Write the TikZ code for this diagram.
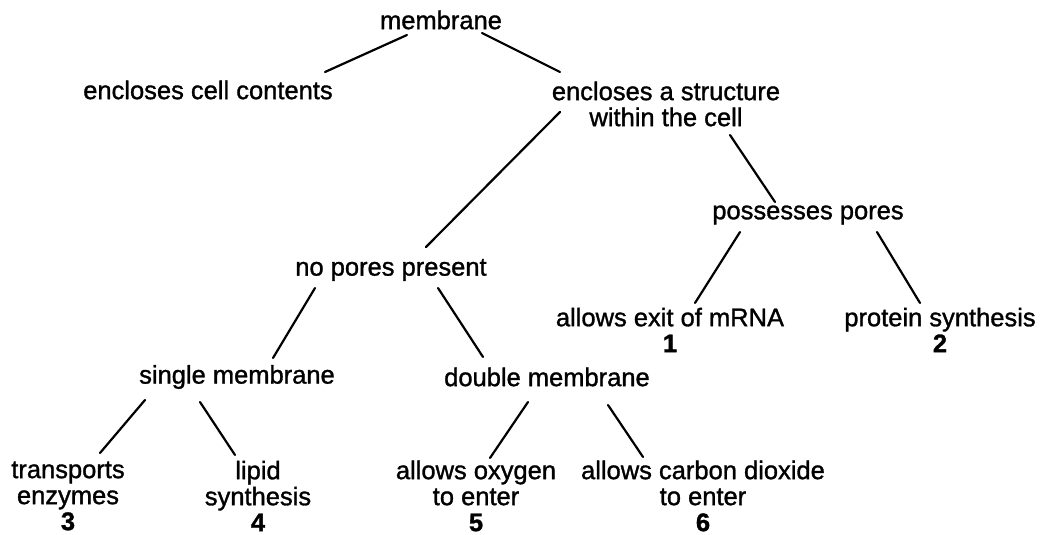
\documentclass[tikz,border=0pt]{standalone}
\usepackage{fontspec}
\setmainfont{Liberation Sans}
\newfontfamily\heavyfont[FakeBold=1.2]{Liberation Sans}
\begin{document}
\begin{tikzpicture}[x=1pt,y=-1pt,
  lbl/.style={inner sep=0pt,align=center,font=\heavyfont\fontsize{25.5}{26}\selectfont},
  link/.style={line width=2.2pt,black,line cap=round}]
\useasboundingbox (0,0) rectangle (1042,535);
\node[lbl] (mem) at (441,20) {membrane};
\node[lbl] (ecc) at (208,90) {encloses cell contents};
\node[lbl] (eas) at (666,104) {encloses a structure\\within the cell};
\node[lbl] (pp)  at (808,215) {possesses pores};
\node[lbl] (npp) at (391,270) {no pores present};
\node[lbl] (aem) at (670,330) {allows exit of mRNA\\\textbf{1}};
\node[lbl] (ps)  at (940,330) {protein synthesis\\\textbf{2}};
\node[lbl] (sm)  at (237,377) {single membrane};
\node[lbl] (dm)  at (547,377) {double membrane};
\node[lbl] (te)  at (68,496)  {transports\\enzymes\\\textbf{3}};
\node[lbl] (ls)  at (258,496) {lipid\\synthesis\\\textbf{4}};
\node[lbl] (ao)  at (476,496) {allows oxygen\\to enter\\\textbf{5}};
\node[lbl] (acd) at (703,496) {allows carbon dioxide\\to enter\\\textbf{6}};
\draw[link] ([shift={(-34,15)}]mem.center) -- ([shift={(117,-18)}]ecc.center);
\draw[link] ([shift={(41,13)}]mem.center) -- ([shift={(-106,-32)}]eas.center);
\draw[link] ([shift={(-106,8)}]eas.center) -- ([shift={(35,-23)}]npp.center);
\draw[link] ([shift={(64,31)}]eas.center) -- ([shift={(-33,-13)}]pp.center);
\draw[link] ([shift={(-68,17)}]pp.center) -- ([shift={(25,-27)}]aem.center);
\draw[link] ([shift={(69,17)}]pp.center) -- ([shift={(-20,-27)}]ps.center);
\draw[link] ([shift={(-76,18)}]npp.center) -- ([shift={(36,-19)}]sm.center);
\draw[link] ([shift={(47,18)}]npp.center) -- ([shift={(-64,-20)}]dm.center);
\draw[link] ([shift={(-92,23)}]sm.center) -- ([shift={(32,-43)}]te.center);
\draw[link] ([shift={(-37,25)}]sm.center) -- ([shift={(-23,-41)}]ls.center);
\draw[link] ([shift={(-19,25)}]dm.center) -- ([shift={(14,-38)}]ao.center);
\draw[link] ([shift={(61,28)}]dm.center) -- ([shift={(-60,-39)}]acd.center);
\end{tikzpicture}
\end{document}
